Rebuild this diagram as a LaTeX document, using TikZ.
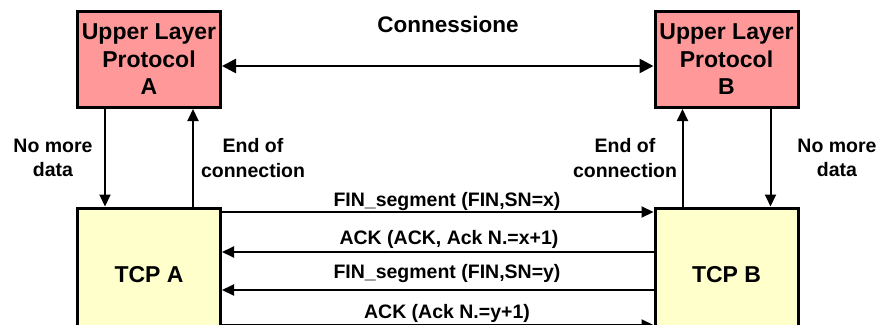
\documentclass[tikz,border=0pt]{standalone}
\usepackage{fontspec}
\setmainfont{Liberation Sans}
\usetikzlibrary{arrows.meta,calc}
\definecolor{ulpfill}{HTML}{FF9999}
\definecolor{tcpfill}{HTML}{FFFFCC}
\begin{document}
\begin{tikzpicture}[x=1pt,y=-1pt,
  ulp/.style={draw=black,line width=3pt,fill=ulpfill,minimum width=143pt,minimum height=96pt,inner sep=0pt,align=center,font=\fontsize{23}{27.5}\selectfont\bfseries},
  tcp/.style={draw=black,line width=3pt,fill=tcpfill,minimum width=143pt,minimum height=134pt,inner sep=0pt,align=center,font=\fontsize{23}{27.5}\selectfont\bfseries},
  lbl/.style={align=center,inner sep=0pt,font=\fontsize{19.5}{24.5}\selectfont\bfseries},
  conn/.style={line width=2pt,-{Triangle[length=12pt,width=11pt]}},
  conn2/.style={line width=2.6pt,{Triangle[length=14pt,width=14pt]}-{Triangle[length=14pt,width=14pt]}}
]
\useasboundingbox (0,0) rectangle (878,324);
\clip (0,0) rectangle (878,324);
\node[ulp] (ulpA) at (149,59.5) {Upper Layer\\Protocol\\A};
\node[ulp] (ulpB) at (726.5,59.5) {Upper Layer\\Protocol\\B};
\node[tcp] (tcpA) at (149,275) {TCP A};
\node[tcp] (tcpB) at (726.5,275) {TCP B};

\draw[conn2] ([yshift=-6.5pt]ulpA.east) -- ([yshift=-6.5pt]ulpB.west);
\node[lbl,font=\fontsize{22.5}{24}\selectfont\bfseries] (cn) at (448,24) {Connessione};

\draw[conn] ([xshift=-44pt]ulpA.south) -- ([xshift=-44pt]tcpA.north);
\draw[conn] ([xshift=44pt]tcpA.north) -- ([xshift=44pt]ulpA.south);
\draw[conn] ([xshift=-44pt]tcpB.north) -- ([xshift=-44pt]ulpB.south);
\draw[conn] ([xshift=44pt]ulpB.south) -- ([xshift=44pt]tcpB.north);

\node[lbl] (nmA) at (53,158) {No more\\data};
\node[lbl] (ecA) at (253,158) {End of\\connection};
\node[lbl] (ecB) at (625,158) {End of\\connection};
\node[lbl] (nmB) at (837,158) {No more\\data};

\coordinate (y1) at (0,212);
\coordinate (y2) at (0,252);
\coordinate (y3) at (0,290);
\coordinate (y4) at (0,325);
\draw[conn] (tcpA.east |- y1) -- (tcpB.west |- y1);
\draw[conn] (tcpB.west |- y2) -- (tcpA.east |- y2);
\draw[conn] (tcpB.west |- y3) -- (tcpA.east |- y3);
\draw[conn] (tcpA.east |- y4) -- (tcpB.west |- y4);

\node[lbl] (l1) at (447,201) {FIN\_segment (FIN,SN=x)};
\node[lbl] (l2) at (449,239) {ACK (ACK, Ack N.=x+1)};
\node[lbl] (l3) at (447,273) {FIN\_segment (FIN,SN=y)};
\node[lbl] (l4) at (447,313) {ACK (Ack N.=y+1)};
\end{tikzpicture}
\end{document}
